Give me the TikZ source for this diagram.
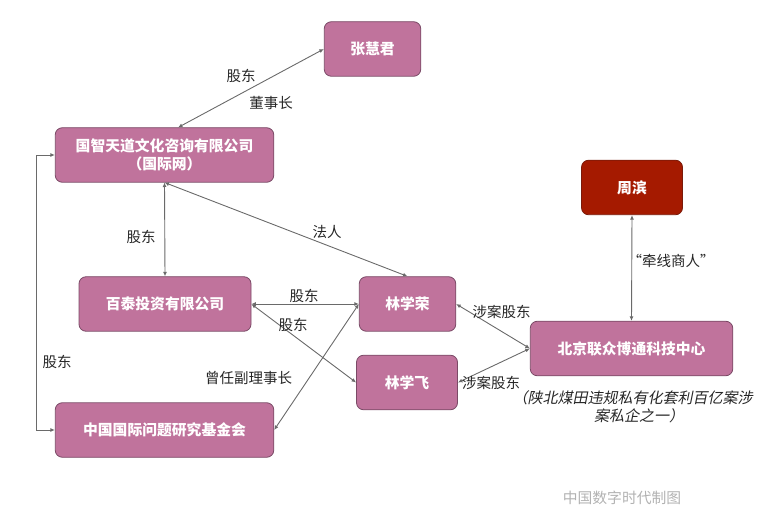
\documentclass[tikz,border=0pt]{standalone}
\usepackage{fontspec}
\setmainfont{Noto Sans CJK SC}
\usetikzlibrary{arrows.meta}
\definecolor{boxfill}{HTML}{C0739C}
\definecolor{boxline}{HTML}{7A4A66}
\definecolor{redfill}{HTML}{A51A00}
\definecolor{redline}{HTML}{7A1A0A}
\definecolor{conn}{HTML}{6A6A6A}
\tikzset{x=1pt,y=-1pt,
 box/.style={draw=boxline,fill=boxfill,line width=0.8pt,rounded corners=7pt,text=white,font=\fontsize{14.8}{18}\selectfont\bfseries,align=center,inner sep=0pt,anchor=center},
 redbox/.style={box,draw=redline,fill=redfill},
 conn/.style={draw=conn,line width=0.9pt,{Latex[length=4.5pt,width=4pt]}-{Latex[length=4.5pt,width=4pt]}},
 lab/.style={text=black!85,font=\fontsize{14.5}{18}\selectfont,inner sep=0pt,anchor=center,align=center}}
\begin{document}
\begin{tikzpicture}
\useasboundingbox (0,0) rectangle (768,518);
\node[box,minimum width=96.5pt,minimum height=54.5pt] (zhang) at (372.5,49) {张慧君};
\node[box,minimum width=218.5pt,minimum height=54.5pt] (guozhi) at (164.5,155) {国智天道文化咨询有限公司\\（国际网）};
\node[redbox,minimum width=101pt,minimum height=54.5pt] (zhou) at (632,187.5) {周滨};
\node[box,minimum width=172pt,minimum height=54.5pt] (baitai) at (165,304) {百泰投资有限公司};
\node[box,minimum width=96.5pt,minimum height=54.5pt] (rong) at (407.5,304) {林学荣};
\node[box,minimum width=101pt,minimum height=54.5pt] (fei) at (407,382.5) {林学飞};
\node[box,minimum width=218.5pt,minimum height=54.5pt] (fund) at (164.5,430) {中国国际问题研究基金会};
\node[box,minimum width=202.5pt,minimum height=54.5pt] (bj) at (631.5,348.5) {北京联众博通科技中心};
\coordinate (guozhiT) at (178,127.5);
\coordinate (guozhiB) at (164.5,182.5);
\draw[conn] (guozhiT) -- (zhang.west);
\draw[conn] (guozhiB) -- (baitai.north);
\draw[conn] (guozhiB) -- (rong.north);
\draw[conn] (baitai.east) -- (rong.west);
\draw[conn] (baitai.east) -- (fei.west);
\draw[conn] (fund.east) -- (rong.west);
\draw[conn] (fund.west) -- (36,430) -- (36,155) -- (guozhi.west);
\draw[conn] (zhou.south) -- (bj.north);
\draw[conn] (rong.east) -- (bj.west);
\draw[conn] (fei.east) -- (bj.west);
\node[lab] (l1) at (241,76) {股东};
\node[lab] (l2) at (271,103) {董事长};
\node[lab] (l3) at (141,237) {股东};
\node[lab] (l4) at (327,232) {法人};
\node[lab] (l5) at (304,296) {股东};
\node[lab] (l6) at (293,325) {股东};
\node[lab] (l7) at (57,362) {股东};
\node[lab] (l8) at (248.5,378) {曾任副理事长};
\node[lab] (l9) at (501.5,312) {涉案股东};
\node[lab] (l10) at (491,383) {涉案股东};
\node[lab] (l11) at (671,261) {“牵线商人”};
\node[lab,font=\fontsize{15}{18}\selectfont,xslant=0.2] (l12) at (632,407) {（陕北煤田违规私有化套利百亿案涉\\\hspace*{20pt}案私企之一）};
\node[lab,text=black!30,font=\fontsize{14.8}{18}\selectfont] (l13) at (622,498) {中国数字时代制图};
\end{tikzpicture}
\end{document}
